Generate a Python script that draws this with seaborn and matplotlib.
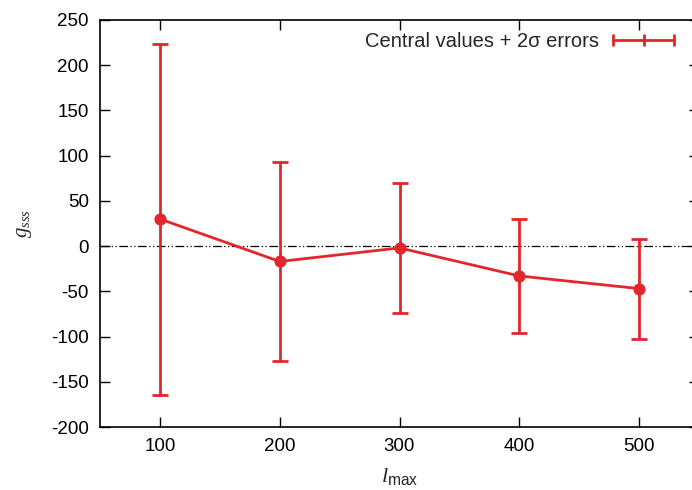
import matplotlib
matplotlib.use("Agg")
import matplotlib.pyplot as plt
import seaborn as sns
import numpy as np
import pandas as pd
from matplotlib.lines import Line2D

lmax = [100, 200, 300, 400, 500]
central = [30, -17, -2, -33, -47]
upper = [223, 93, 70, 30, 8]
lower = [-165, -127, -74, -96, -103]
yticks = [-200, -150, -100, -50, 0, 50, 100, 150, 200, 250]
xticks = [100, 200, 300, 400, 500]

sns.set_theme(style="ticks")
plt.rcParams['font.family'] = ['Liberation Sans', 'DejaVu Sans']
plt.rcParams['axes.unicode_minus'] = False
plt.rcParams['mathtext.fontset'] = 'custom'
plt.rcParams['mathtext.it'] = 'Liberation Serif:italic'
plt.rcParams['mathtext.rm'] = 'Liberation Sans'

red = '#e3262b'
df = pd.DataFrame({'lmax': lmax, 'central': central})

fig = plt.figure(figsize=(6.92, 4.90), dpi=100)
ax = fig.add_axes([100/692, 63/490, 599/692, 407/490])

ax.axhline(0, color='black', lw=0.9, dashes=(7, 2, 1, 2, 1, 2), zorder=1)

yerr = np.array([np.array(central) - np.array(lower), np.array(upper) - np.array(central)])
ax.errorbar(lmax, central, yerr=yerr, fmt='none', ecolor=red, elinewidth=2.0,
            capsize=6, capthick=2.0, zorder=2)
sns.lineplot(data=df, x='lmax', y='central', ax=ax, color=red, lw=2.0,
             marker='o', markersize=8, markeredgecolor=red, zorder=3)

ax.set_xlim(50, 550)
ax.set_ylim(-200, 250)
ax.set_xticks(xticks)
ax.set_yticks(yticks)
ax.tick_params(direction='in', length=7, width=1, top=True, right=True,
               labelsize=13.5, colors='black', pad=8)
for s in ax.spines.values():
    s.set_linewidth(1.2)
    s.set_color('black')

ax.set_xlabel(r'$l_{\mathrm{max}}$', fontsize=16, labelpad=8)
ax.set_ylabel(r'$g_{sss}$', fontsize=15, labelpad=12)

handle = Line2D([0], [0], color=red, lw=2.0, marker='|', markersize=9,
                markeredgewidth=2.0)
leg = ax.legend([handle], ['Central values + 2σ errors'], loc='upper right',
                bbox_to_anchor=(688/692, 466/490), bbox_transform=fig.transFigure,
                frameon=False, numpoints=3, markerfirst=False, fontsize=14.5,
                handlelength=3.6, handletextpad=0.4, borderaxespad=0)

fig.savefig('out.png', dpi=100)
